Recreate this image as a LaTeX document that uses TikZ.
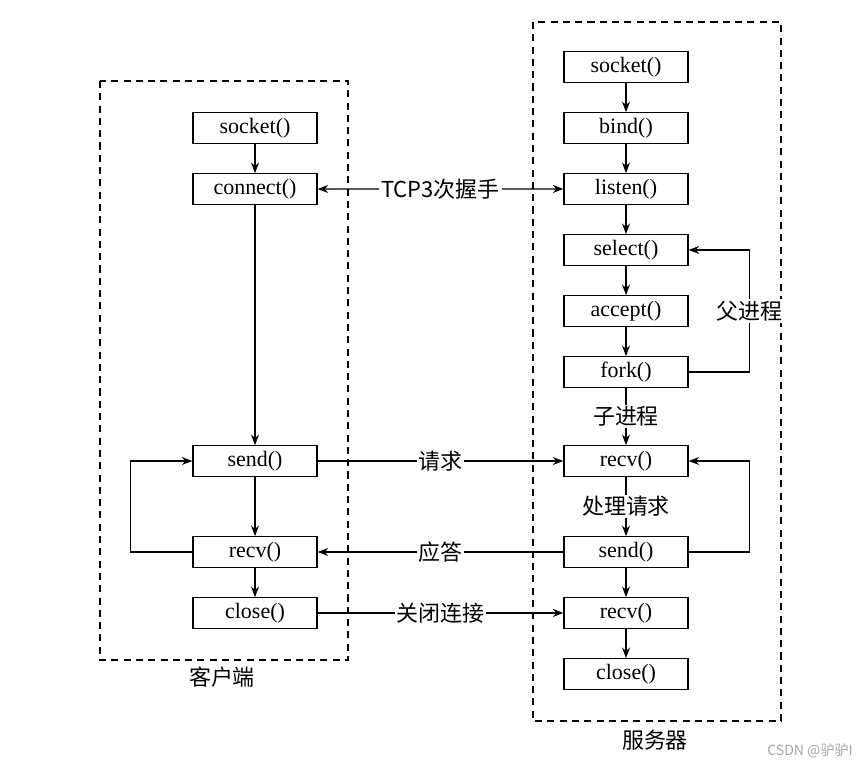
\documentclass[tikz,border=0pt]{standalone}
\usepackage{fontspec}
\setmainfont{Liberation Serif}
\newfontfamily\cjk{Noto Sans CJK SC}
\usetikzlibrary{positioning,arrows.meta}

\begin{document}
\begin{tikzpicture}[
                x=0.02cm, y=-0.02cm,
                node distance=1.22cm,          % 相邻框的间距
                every node/.style={font=\fontsize{12.5}{14}\selectfont},
                box/.style={
                    rectangle,
                    draw,
                    minimum width=2.48cm,
                    minimum height=0.61cm,
                    inner sep=0pt
                },
                lab/.style={font=\cjk\fontsize{12.5}{14}\selectfont, fill=white, inner sep=1pt},
                frame/.style={draw, dash pattern=on 4pt off 3pt},
                >={Stealth[length=6pt, width=4.5pt]},
                line width=0.7pt,
                arrow/.style={->}
            ]
                \useasboundingbox (0,0) rectangle (861,768);

                % 虚线框
                \draw[frame] (100,81) rectangle (348,660);
                \draw[frame] (533,22) rectangle (781,721);
                \node[font=\cjk\fontsize{12.5}{14}\selectfont] (client) at (222,677) {客户端};
                \node[font=\cjk\fontsize{12.5}{14}\selectfont] (server) at (655,740) {服务器};

                % 客户端
                \node[box] (csock) at (255,128) {socket()};
                \node[box] (cconn) [below of=csock] {connect()};
                \node[box] (csend) at (255,461) {send()};
                \node[box] (crecv) [below of=csend, node distance=1.82cm] {recv()};
                \node[box] (cclose) [below of=crecv] {close()};

                % 服务器
                \node[box] (ssock) at (626,67) {socket()};
                \node[box] (sbind) [below of=ssock] {bind()};
                \node[box] (slisten) [below of=sbind] {listen()};
                \node[box] (sselect) [below of=slisten] {select()};
                \node[box] (saccept) [below of=sselect] {accept()};
                \node[box] (sfork) [below of=saccept] {fork()};
                \node[box] (srecv) at (626,461) {recv()};
                \node[box] (ssend) [below of=srecv, node distance=1.82cm] {send()};
                \node[box] (srecvb) [below of=ssend] {recv()};
                \node[box] (sclose) [below of=srecvb] {close()};

                % 客户端的边
                \draw[arrow] (csock) -- (cconn);
                \draw[arrow] (cconn) -- (csend);
                \draw[arrow] (csend) -- (crecv);
                \draw[arrow] (crecv) -- (cclose);
                \draw[arrow] (crecv.west) -- ++(-62,0) |- (csend.west);

                % 服务器的边
                \draw[arrow] (ssock) -- (sbind);
                \draw[arrow] (sbind) -- (slisten);
                \draw[arrow] (slisten) -- (sselect);
                \draw[arrow] (sselect) -- (saccept);
                \draw[arrow] (saccept) -- (sfork);
                \draw[arrow] (sfork.east) -- ++(61,0) |- node[lab, pos=0.25] {父进程} (sselect.east);
                \draw[arrow] (sfork) -- node[lab] {子进程} (srecv);
                \draw[arrow] (srecv) -- node[lab] {处理请求} (ssend);
                \draw[arrow] (ssend.east) -- ++(61,0) |- (srecv.east);
                \draw[arrow] (ssend) -- (srecvb);
                \draw[arrow] (srecvb) -- (sclose);

                % 两端之间
                \draw[<->] (cconn) -- node[lab] {TCP3次握手} (slisten);
                \draw[arrow] (csend) -- node[lab] {请求} (srecv);
                \draw[arrow] (ssend) -- node[lab] {应答} (crecv);
                \draw[arrow] (cclose) -- node[lab] {关闭连接} (srecvb);

                \node[font=\cjk\fontsize{8}{9}\selectfont, text=gray!70] (mark) at (810,751) {CSDN @驴驴I};
            \end{tikzpicture}
\end{document}
